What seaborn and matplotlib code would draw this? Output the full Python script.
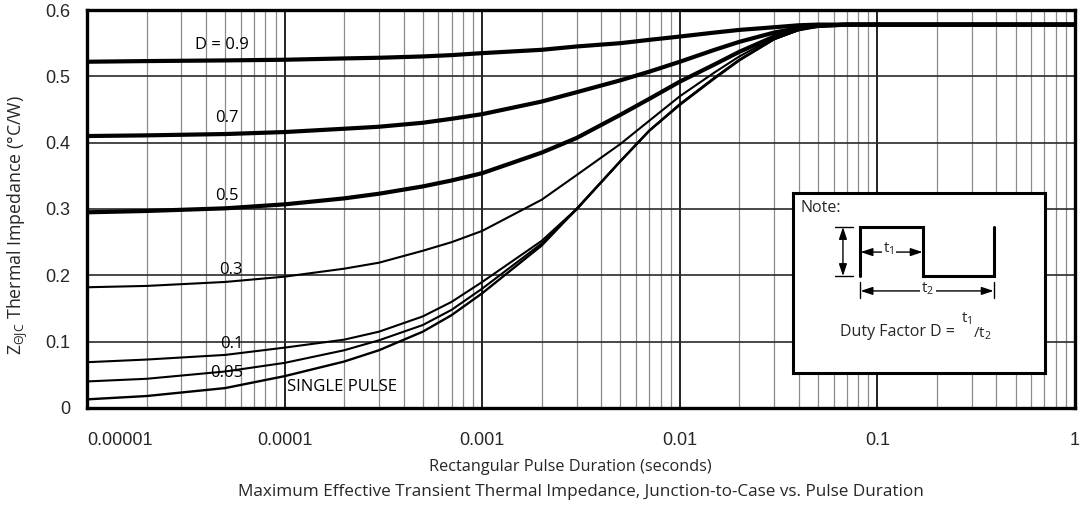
import matplotlib
matplotlib.use("Agg")
import matplotlib.pyplot as plt
import pandas as pd
import seaborn as sns

# pulse duration (s) at which the curves were read
t_pts = [1e-5, 2e-5, 5e-5, 1e-4, 2e-4, 3e-4, 5e-4, 7e-4, 1e-3, 2e-3, 3e-3,
         5e-3, 7e-3, 1e-2, 1.5e-2, 2e-2, 3e-2, 4e-2, 5e-2, 7e-2, 1e-1, 1.0]

# Z_thJC (degC/W) for each duty factor
z_d09 = [.522, .523, .524, .525, .527, .528, .530, .532, .535, .540, .545,
         .550, .555, .560, .566, .570, .574, .577, .578, .578, .578, .578]
z_d07 = [.410, .411, .413, .416, .421, .424, .430, .436, .443, .462, .476,
         .494, .507, .522, .540, .552, .566, .573, .576, .578, .578, .578]
z_d05 = [.295, .297, .301, .307, .316, .323, .334, .343, .354, .385, .407,
         .442, .466, .492, .518, .537, .560, .571, .576, .578, .578, .578]
z_d03 = [.182, .184, .190, .198, .210, .219, .237, .250, .267, .314, .351,
         .398, .433, .470, .506, .530, .558, .571, .576, .578, .578, .578]
z_d01 = [.069, .073, .080, .091, .103, .115, .138, .160, .190, .252, .300,
         .372, .418, .458, .498, .525, .556, .570, .576, .578, .578, .578]
z_d005 = [.040, .044, .055, .068, .087, .102, .125, .148, .180, .248, .299,
          .372, .418, .458, .498, .525, .556, .570, .576, .578, .578, .578]
z_single = [.013, .018, .030, .048, .070, .087, .115, .140, .173, .245, .300,
            .372, .418, .457, .497, .524, .556, .570, .576, .578, .578, .578]

curve_names = ["0.9", "0.7", "0.5", "0.3", "0.1", "0.05", "single"]
curve_values = [z_d09, z_d07, z_d05, z_d03, z_d01, z_d005, z_single]

x_tick_vals = [1e-5, 1e-4, 1e-3, 1e-2, 1e-1, 1]
x_tick_labels = ["0.00001", "0.0001", "0.001", "0.01", "0.1", "1"]
y_tick_vals = [0, 0.1, 0.2, 0.3, 0.4, 0.5, 0.6]
y_tick_labels = ["0", "0.1", "0.2", "0.3", "0.4", "0.5", "0.6"]

# line widths (pt) per curve
line_widths = {"0.9": 3.0, "0.7": 3.0, "0.5": 3.0, "0.3": 1.5,
               "0.1": 1.5, "0.05": 1.5, "single": 1.7}

sns.set_theme(style="white")
plt.rcParams["font.family"] = ["Open Sans", "DejaVu Sans"]
plt.rcParams["mathtext.default"] = "regular"

df = pd.concat(
    [pd.DataFrame({"t": t_pts, "z": vals, "curve": name})
     for name, vals in zip(curve_names, curve_values)],
    ignore_index=True,
)

fig = plt.figure(figsize=(10.81, 5.08), dpi=100)
ax = fig.add_axes([0.0805, 0.1969, 0.9140, 0.7834])

sns.lineplot(
    data=df, x="t", y="z", hue="curve", size="curve",
    palette={n: "black" for n in curve_names}, sizes=line_widths,
    estimator=None, sort=False, legend=False, ax=ax, zorder=3,
)

ax.set_xscale("log")
ax.set_xlim(1e-5, 1)
ax.set_ylim(0, 0.6)

# grid: dark decades, grey minors, dark horizontals
minor = [m * 10.0 ** e for e in range(-5, 0) for m in range(2, 10)]
ax.set_xticks(minor, minor=True)
ax.set_xticks(x_tick_vals)
ax.set_xticklabels(x_tick_labels, fontfamily="Liberation Sans", fontsize=13)
ax.set_yticks(y_tick_vals)
ax.set_yticklabels(y_tick_labels, fontfamily="Liberation Sans", fontsize=13)
ax.get_xticklabels()[0].set_horizontalalignment("left")
ax.grid(which="major", axis="x", color="#111111", lw=1.3)
ax.grid(which="minor", axis="x", color="#8c8c8c", lw=0.9)
ax.grid(which="major", axis="y", color="#2a2a2a", lw=1.2)
ax.tick_params(which="both", length=0)
ax.tick_params(axis="x", pad=17)
ax.tick_params(axis="y", pad=12)
ax.set_xlabel("")
ax.set_ylabel("")
for sp in ax.spines.values():
    sp.set_visible(True)
    sp.set_color("black")
    sp.set_linewidth(2.4)

# curve labels
lbl_kw = dict(fontsize=12, color="black", zorder=4)
ax.text(4.8e-5, 0.547, "D = 0.9", ha="center", va="center", **lbl_kw)
ax.text(5.1e-5, 0.437, "0.7", ha="center", va="center", **lbl_kw)
ax.text(5.1e-5, 0.320, "0.5", ha="center", va="center", **lbl_kw)
ax.text(5.35e-5, 0.208, "0.3", ha="center", va="center", **lbl_kw)
ax.text(5.4e-5, 0.0965, "0.1", ha="center", va="center", **lbl_kw)
ax.text(5.1e-5, 0.052, "0.05", ha="center", va="center", **lbl_kw)
ax.text(1.03e-4, 0.032, "SINGLE PULSE", ha="left", va="center", **lbl_kw)

# note box with duty-factor sketch
ax_in = ax.inset_axes([0.7146, 0.088, 0.2550, 0.452], zorder=6)
ax_in.set_xlim(0, 1)
ax_in.set_ylim(0, 1)
ax_in.set_xticks([])
ax_in.set_yticks([])
ax_in.set_facecolor("white")
for sp in ax_in.spines.values():
    sp.set_color("black")
    sp.set_linewidth(2.2)

ax_in.text(0.03, 0.917, "Note:", ha="left", va="center", fontsize=11.5)
ax_in.plot([0.266, 0.266, 0.516, 0.516, 0.798, 0.798],
           [0.539, 0.811, 0.811, 0.539, 0.539, 0.811],
           color="black", lw=2.2, solid_joinstyle="miter")
arrow_kw = dict(arrowstyle="<|-|>,head_length=0.6,head_width=0.2",
                color="black", lw=1.0, shrinkA=0, shrinkB=0)
# amplitude arrow
ax_in.annotate("", xy=(0.198, 0.811), xytext=(0.198, 0.539), arrowprops=arrow_kw)
ax_in.plot([0.167, 0.238], [0.811, 0.811], color="black", lw=1.0)
ax_in.plot([0.167, 0.238], [0.539, 0.539], color="black", lw=1.0)
# t1 arrow
ax_in.annotate("", xy=(0.268, 0.672), xytext=(0.514, 0.672), arrowprops=arrow_kw)
ax_in.text(0.38, 0.69, "t$_1$", ha="center", va="center", fontsize=11,
           bbox=dict(fc="white", ec="none", pad=1))
# t2 arrow
ax_in.annotate("", xy=(0.268, 0.456), xytext=(0.796, 0.456), arrowprops=arrow_kw)
ax_in.plot([0.266, 0.266], [0.417, 0.506], color="black", lw=1.0)
ax_in.plot([0.798, 0.798], [0.417, 0.506], color="black", lw=1.0)
ax_in.text(0.535, 0.47, "t$_2$", ha="center", va="center", fontsize=11,
           bbox=dict(fc="white", ec="none", pad=1))

ax_in.text(0.187, 0.228, "Duty Factor D =", ha="left", va="center", fontsize=11.5)
ax_in.text(0.69, 0.30, "t$_1$", ha="center", va="center", fontsize=11)
ax_in.text(0.75, 0.215, "/t$_2$", ha="center", va="center", fontsize=11)

# axis titles
fig.text(0.528, 0.081, "Rectangular Pulse Duration (seconds)",
         ha="center", va="center", fontsize=11.7)
fig.text(0.537, 0.031,
         "Maximum Effective Transient Thermal Impedance, Junction-to-Case vs. Pulse Duration",
         ha="center", va="center", fontsize=12.3)
fig.text(0.017, 0.557, "Z$_{ΘJC}$ Thermal Impedance (°C/W)",
         ha="center", va="center", rotation=90, fontsize=12.8)

fig.savefig("out.png", dpi=100)
plt.close(fig)
